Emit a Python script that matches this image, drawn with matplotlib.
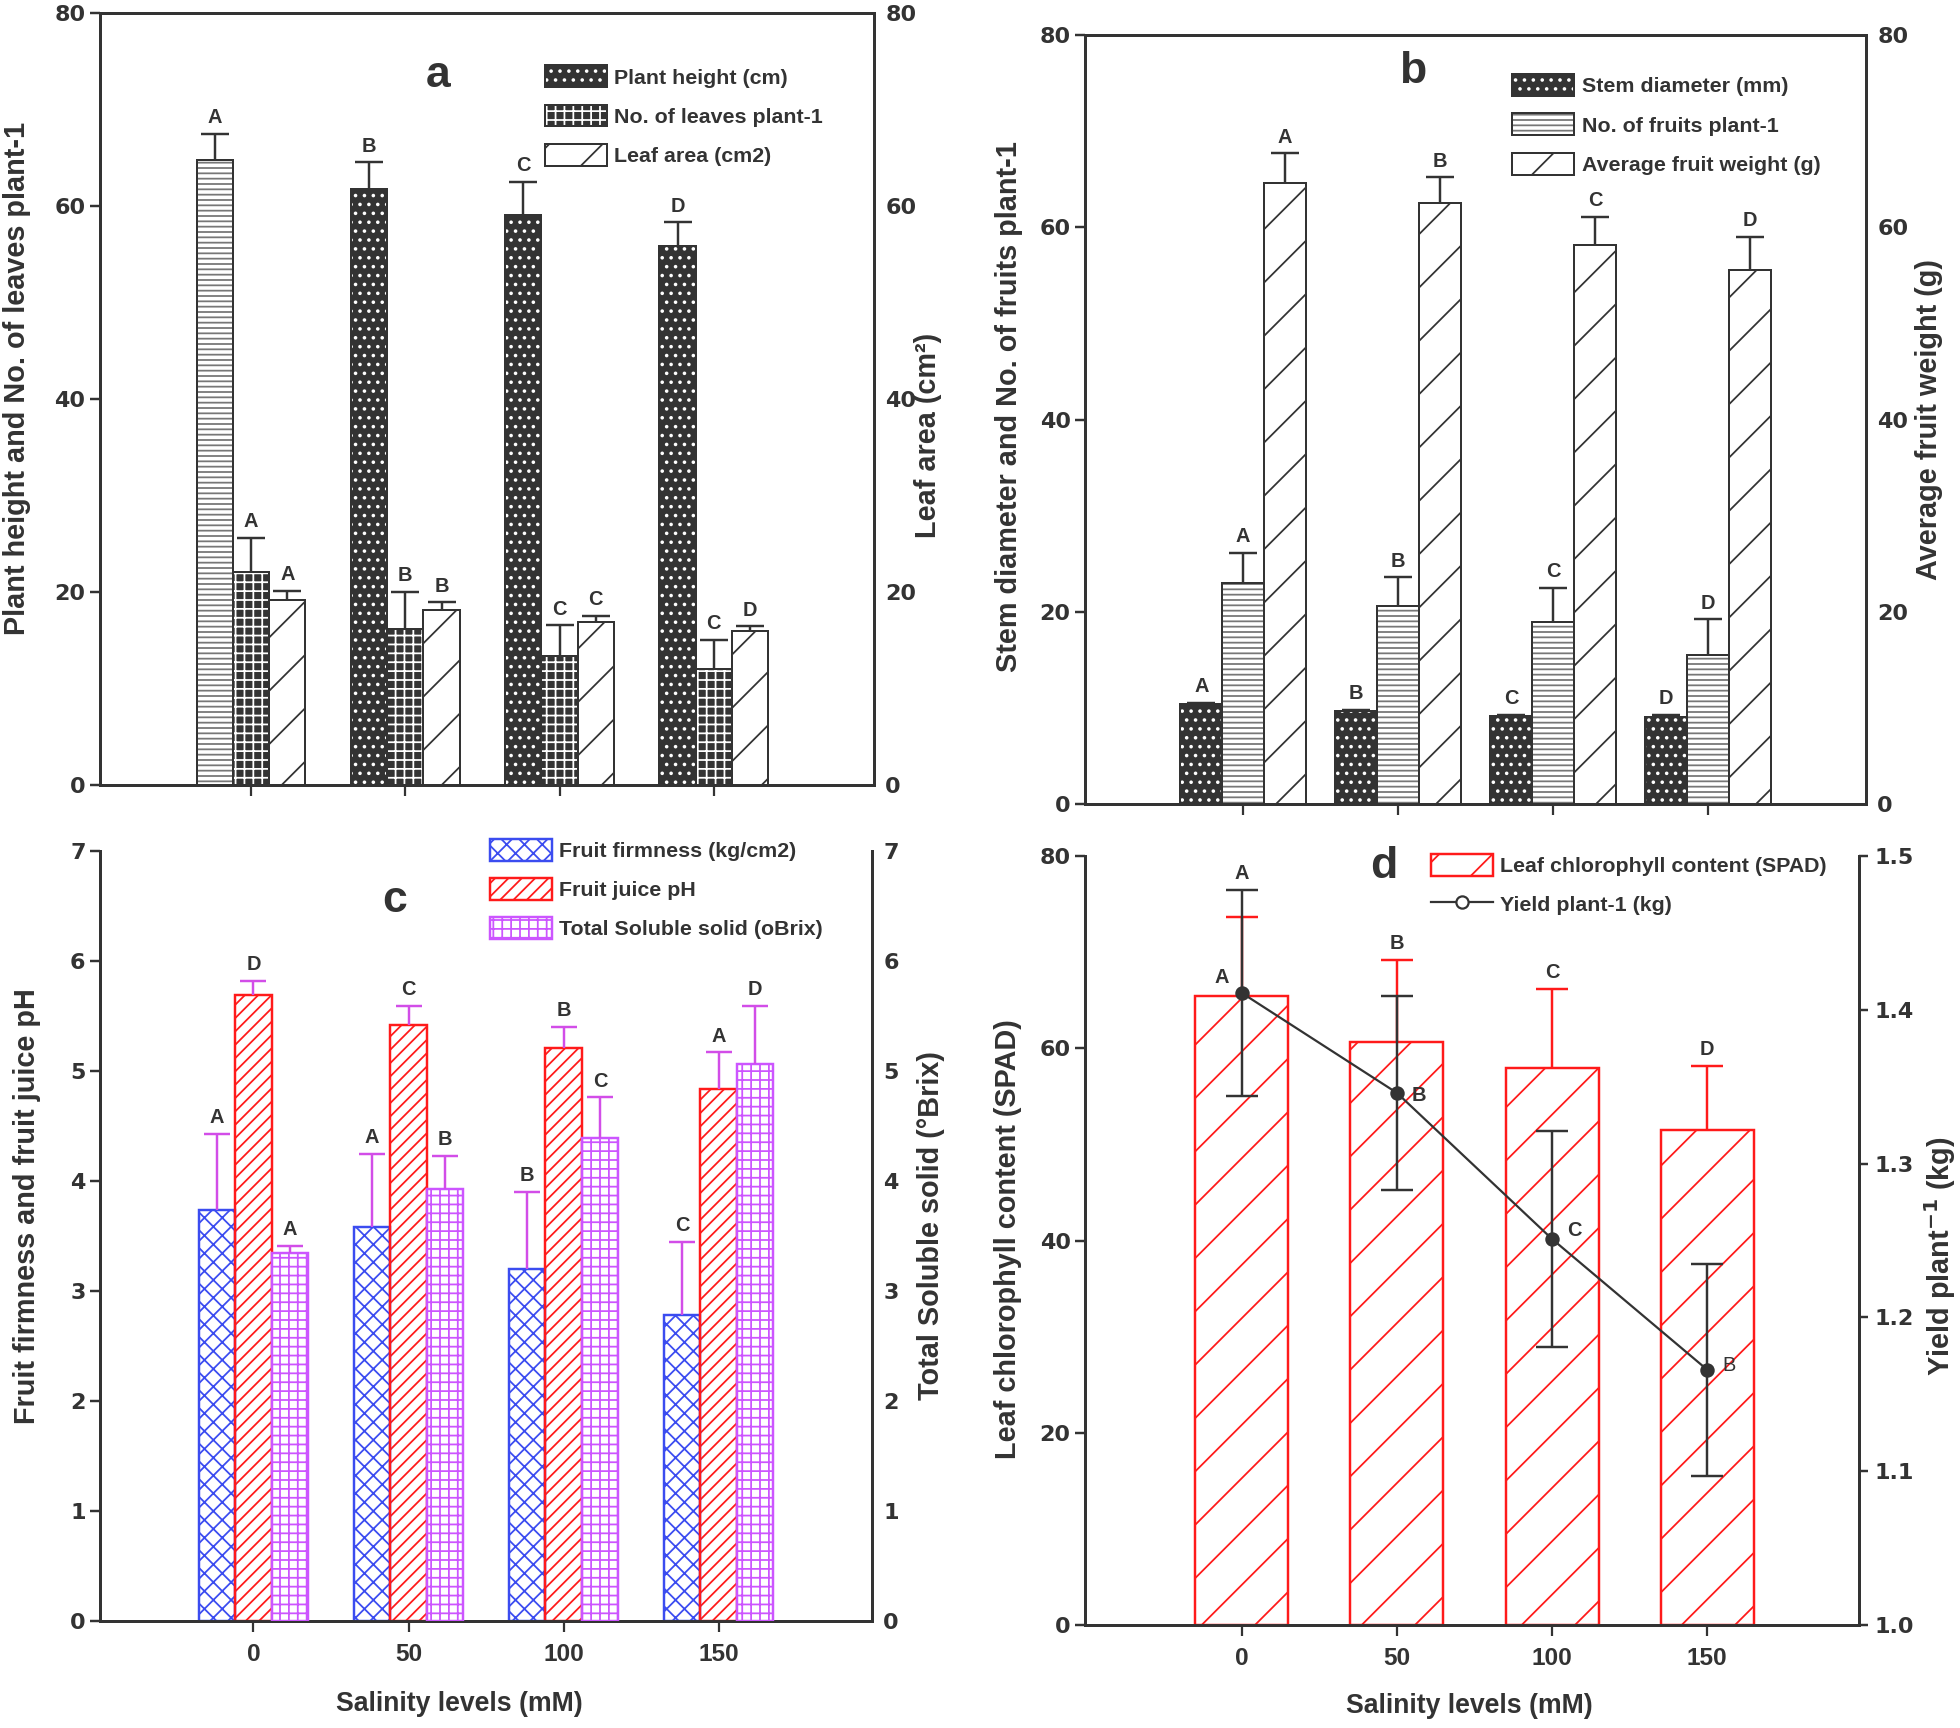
import numpy as np
import matplotlib.pyplot as plt
from matplotlib.patches import Patch
from matplotlib.lines import Line2D

plt.rcParams['font.weight'] = 'bold'
plt.rcParams['hatch.linewidth'] = 0.8

DARK = '#333333'
BLUE = '#3b4cf0'
RED = '#ff1a1a'
PURPLE = '#cc55ff'
NARROW = ['Liberation Sans', 'DejaVu Sans']
ARIAL = ['Liberation Sans', 'DejaVu Sans']

salinity = ['0', '50', '100', '150']

# (a) growth
plant_height = [64.8, 61.7, 59.1, 55.8]
plant_height_se = [2.7, 2.8, 3.4, 2.5]
plant_height_let = ['A', 'B', 'C', 'D']
leaves = [22.0, 16.1, 13.3, 12.0]
leaves_se = [3.6, 3.9, 3.2, 3.0]
leaves_let = ['A', 'B', 'C', 'C']
leaf_area = [19.1, 18.1, 16.8, 15.9]
leaf_area_se = [1.0, 0.8, 0.7, 0.5]
leaf_area_let = ['A', 'B', 'C', 'D']

# (b) stem / fruits
stem_diam = [10.4, 9.7, 9.2, 9.1]
stem_diam_se = [0.15, 0.1, 0.1, 0.15]
stem_diam_let = ['A', 'B', 'C', 'D']
fruits = [23.0, 20.6, 18.9, 15.5]
fruits_se = [3.1, 3.0, 3.6, 3.7]
fruits_let = ['A', 'B', 'C', 'D']
fruit_weight = [64.6, 62.5, 58.2, 55.6]
fruit_weight_se = [3.1, 2.7, 2.9, 3.4]
fruit_weight_let = ['A', 'B', 'C', 'D']

# (c) fruit quality
firmness = [3.74, 3.58, 3.20, 2.78]
firmness_se = [0.69, 0.67, 0.70, 0.67]
firmness_let = ['A', 'A', 'B', 'C']
ph = [5.69, 5.42, 5.21, 4.84]
ph_se = [0.13, 0.17, 0.19, 0.33]
ph_let = ['D', 'C', 'B', 'A']
tss = [3.35, 3.93, 4.39, 5.06]
tss_se = [0.06, 0.30, 0.37, 0.53]
tss_let = ['A', 'B', 'C', 'D']

# (d) chlorophyll and yield
spad = [65.4, 60.7, 58.0, 51.5]
spad_se = [8.3, 8.5, 8.2, 6.7]
spad_let = ['A', 'B', 'C', 'D']
yield_kg = [1.411, 1.346, 1.251, 1.166]
yield_se = [0.067, 0.063, 0.070, 0.069]
yield_let = ['A', 'B', 'C', 'B']

x = np.arange(4)


def hbar(ax, xs, h, w, face, hcol, hatch, ecol, lw=0.9):
    ax.bar(xs, h, w, color=face, edgecolor=hcol, hatch=hatch, linewidth=0, zorder=2)
    ax.bar(xs, h, w, fill=False, edgecolor=ecol, linewidth=lw, zorder=3)


def hpatch(face, hcol, hatch, ecol, lw=0.9):
    return (Patch(facecolor=face, edgecolor=hcol, hatch=hatch, linewidth=0),
            Patch(fill=False, edgecolor=ecol, linewidth=lw))


def up_err(ax, xs, vals, se, color, cap, letters, lsize=9):
    eb = ax.errorbar(xs, vals, yerr=[np.zeros(len(se)), se], fmt='none', ecolor=color,
                     elinewidth=1.1, capsize=cap, capthick=1.1, zorder=4)
    eb[1][0].set_visible(False)
    for xi, v, s, l in zip(xs, vals, se, letters):
        ax.annotate(l, (xi, v + s), xytext=(0, 3), textcoords='offset points',
                    ha='center', va='bottom', fontsize=lsize, color=DARK, family=ARIAL)


def style(ax, ax2, ylim, yticks, ylim2, yticks2, top, xlim, right_ticks=False):
    for a in (ax, ax2):
        for s in a.spines.values():
            s.set_linewidth(1.3)
            s.set_color(DARK)
        a.spines['top'].set_visible(top)
        a.set_xlim(*xlim)
    ax.set_ylim(*ylim)
    ax.set_yticks(yticks)
    ax2.set_ylim(*ylim2)
    ax2.set_yticks(yticks2)
    ax.tick_params(axis='y', direction='out', length=4.5, width=1.1, pad=2, colors=DARK, labelsize=10)
    ax.tick_params(axis='x', direction='out', length=5, width=1.0, colors=DARK)
    if right_ticks:
        ax2.tick_params(axis='y', direction='out', length=4, width=1.1, pad=3, colors=DARK, labelsize=10)
    else:
        ax2.tick_params(axis='y', length=0, pad=5, colors=DARK, labelsize=10)
    ax.set_xticks(x)


def vlabel(ax, xf, yf, s, size=13):
    ax.text(xf, yf, s, rotation=90, ha='center', va='center', transform=ax.transAxes,
            fontsize=size, family=NARROW, color=DARK)


fig = plt.figure(figsize=(12.25, 10.8), dpi=160)
ax_a = fig.add_axes([0.051, 0.546, 0.395, 0.4465])
ax_b = fig.add_axes([0.5536, 0.5347, 0.3985, 0.445])
ax_c = fig.add_axes([0.051, 0.0619, 0.394, 0.4456])
ax_d = fig.add_axes([0.5536, 0.0596, 0.395, 0.445])

leg_kw = dict(frameon=False, borderpad=0, borderaxespad=0, loc='upper left',
              handlelength=2.9, handleheight=1.2, handletextpad=0.35, labelspacing=0.8,
              prop={'family': ARIAL, 'weight': 'bold', 'size': 9.6}, labelcolor=DARK)

# ---------- panel a ----------
a2 = ax_a.twinx()
w = 0.235
style(ax_a, a2, (0, 80), range(0, 81, 20), (0, 80), range(0, 81, 20), True, (-0.98, 4.04))
hbar(ax_a, x[:1] - w, plant_height[:1], w, 'white', '#777777', '-----', DARK)
hbar(ax_a, x[1:] - w, plant_height[1:], w, DARK, 'white', '...', DARK)
hbar(ax_a, x, leaves, w, DARK, 'white', '+++', DARK)
hbar(a2, x + w, leaf_area, w, 'white', DARK, '/', DARK)
up_err(ax_a, x - w, plant_height, plant_height_se, DARK, 6.5, plant_height_let)
up_err(ax_a, x, leaves, leaves_se, DARK, 6.5, leaves_let)
up_err(a2, x + w, leaf_area, leaf_area_se, DARK, 6.5, leaf_area_let)
ax_a.set_xticklabels([])
vlabel(ax_a, -0.107, 0.526, 'Plant height and No. of leaves plant-1')
vlabel(ax_a, 1.07, 0.452, 'Leaf area (cm²)')
ax_a.text(0.437, 0.919, 'a', transform=ax_a.transAxes, fontsize=20, ha='center', va='center',
          color=DARK, family=ARIAL)
a2.legend([hpatch(DARK, 'white', '...', DARK), hpatch(DARK, 'white', '+++', DARK),
           hpatch('white', DARK, '/', DARK)],
          ['Plant height (cm)', 'No. of leaves plant-1', 'Leaf area (cm2)'],
          bbox_to_anchor=(0.575, 0.932), **leg_kw)

# ---------- panel b ----------
b2 = ax_b.twinx()
w = 0.27
style(ax_b, b2, (0, 80), range(0, 81, 20), (0, 80), range(0, 81, 20), True, (-1.02, 4.02))
hbar(ax_b, x - w, stem_diam, w, DARK, 'white', '...', DARK)
hbar(ax_b, x, fruits, w, 'white', '#777777', '-----', DARK)
hbar(b2, x + w, fruit_weight, w, 'white', DARK, '/', DARK)
up_err(ax_b, x - w, stem_diam, stem_diam_se, DARK, 6.5, stem_diam_let)
up_err(ax_b, x, fruits, fruits_se, DARK, 6.5, fruits_let)
up_err(b2, x + w, fruit_weight, fruit_weight_se, DARK, 6.5, fruit_weight_let)
ax_b.set_xticklabels([])
vlabel(ax_b, -0.097, 0.517, 'Stem diameter and No. of fruits plant-1')
vlabel(ax_b, 1.081, 0.50, 'Average fruit weight (g)')
ax_b.text(0.419, 0.952, 'b', transform=ax_b.transAxes, fontsize=20, ha='center', va='center',
          color=DARK, family=ARIAL)
b2.legend([hpatch(DARK, 'white', '...', DARK), hpatch('white', '#777777', '-----', DARK),
           hpatch('white', DARK, '/', DARK)],
          ['Stem diameter (mm)', 'No. of fruits plant-1', 'Average fruit weight (g)'],
          bbox_to_anchor=(0.547, 0.949), **leg_kw)

# ---------- panel c ----------
c2 = ax_c.twinx()
w = 0.235
style(ax_c, c2, (0, 7), range(0, 8), (0, 7), range(0, 8), False, (-0.99, 3.99))
hbar(ax_c, x - w, firmness, w, 'white', BLUE, 'xxx', BLUE, lw=1.1)
hbar(ax_c, x, ph, w, 'white', RED, '////', RED, lw=1.1)
hbar(c2, x + w, tss, w, 'white', PURPLE, '+++', PURPLE, lw=1.1)
up_err(ax_c, x - w, firmness, firmness_se, '#d24de8', 6, firmness_let)
up_err(ax_c, x, ph, ph_se, '#d24de8', 6, ph_let)
up_err(c2, x + w, tss, tss_se, '#d24de8', 6, tss_let)
ax_c.set_xticklabels(salinity, fontsize=11, family=NARROW)
ax_c.tick_params(axis='x', pad=5)
vlabel(ax_c, -0.095, 0.539, 'Fruit firmness and fruit juice pH')
vlabel(ax_c, 1.076, 0.514, 'Total Soluble solid (°Brix)')
ax_c.text(0.465, -0.108, 'Salinity levels (mM)', transform=ax_c.transAxes, fontsize=12,
          ha='center', va='center', color=DARK, family=NARROW)
ax_c.text(0.382, 0.936, 'c', transform=ax_c.transAxes, fontsize=20, ha='center', va='center',
          color=DARK, family=ARIAL)
c2.legend([hpatch('white', BLUE, 'xxx', BLUE, 1.1), hpatch('white', RED, '////', RED, 1.1),
           hpatch('white', PURPLE, '+++', PURPLE, 1.1)],
          ['Fruit firmness (kg/cm2)', 'Fruit juice pH', 'Total Soluble solid (oBrix)'],
          bbox_to_anchor=(0.505, 1.016), **leg_kw)

# ---------- panel d ----------
d2 = ax_d.twinx()
style(ax_d, d2, (0, 80), range(0, 81, 20), (1.0, 1.5), np.arange(1.0, 1.51, 0.1), False,
      (-1.01, 3.98), right_ticks=True)
d2.set_yticklabels(['%.1f' % v for v in np.arange(1.0, 1.51, 0.1)])
hbar(ax_d, x, spad, 0.6, 'white', RED, '/', RED, lw=1.1)
eb = ax_d.errorbar(x, spad, yerr=[np.zeros(4), spad_se], fmt='none', ecolor=RED,
                   elinewidth=1.1, capsize=7, capthick=1.1, zorder=4)
eb[1][0].set_visible(False)
# letters sit above whichever error bar is higher
ytop = np.array(yield_kg) + np.array(yield_se)
ytop_left = (ytop - 1.0) / 0.5 * 80
for xi, v, s, yt, l in zip(x, spad, spad_se, ytop_left, spad_let):
    ax_d.annotate(l, (xi, max(v + s, yt)), xytext=(0, 3), textcoords='offset points',
                  ha='center', va='bottom', fontsize=9, color=DARK, family=ARIAL)
d2.errorbar(x, yield_kg, yerr=yield_se, fmt='o-', color=DARK, ms=5.5, lw=1.0,
            elinewidth=1.1, capsize=7, capthick=1.1, zorder=5)
offs = [(-9, 7), (10, -1), (10, 4), (10, 2)]
for xi, v, l, o, wt in zip(x, yield_kg, yield_let, offs, ['bold', 'bold', 'bold', 'normal']):
    d2.annotate(l, (xi, v), xytext=o, textcoords='offset points', ha='center', va='center',
                fontsize=9, color=DARK, family=ARIAL, weight=wt)
ax_d.set_xticklabels(salinity, fontsize=11, family=NARROW)
ax_d.tick_params(axis='x', pad=5)
vlabel(ax_d, -0.0995, 0.502, 'Leaf chlorophyll content (SPAD)')
vlabel(ax_d, 1.105, 0.48, 'Yield plant$^{-1}$ (kg)')
ax_d.text(0.496, -0.105, 'Salinity levels (mM)', transform=ax_d.transAxes, fontsize=12,
          ha='center', va='center', color=DARK, family=NARROW)
ax_d.text(0.386, 0.987, 'd', transform=ax_d.transAxes, fontsize=20, ha='center', va='center',
          color=DARK, family=ARIAL)
d2.legend([hpatch('white', RED, '/', RED, 1.1),
           Line2D([], [], color=DARK, lw=1.0, marker='o', ms=5.5, mfc='white', mec=DARK)],
          ['Leaf chlorophyll content (SPAD)', 'Yield plant-1 (kg)'],
          bbox_to_anchor=(0.447, 1.003), **leg_kw)

fig.savefig('out.png', dpi=160)
